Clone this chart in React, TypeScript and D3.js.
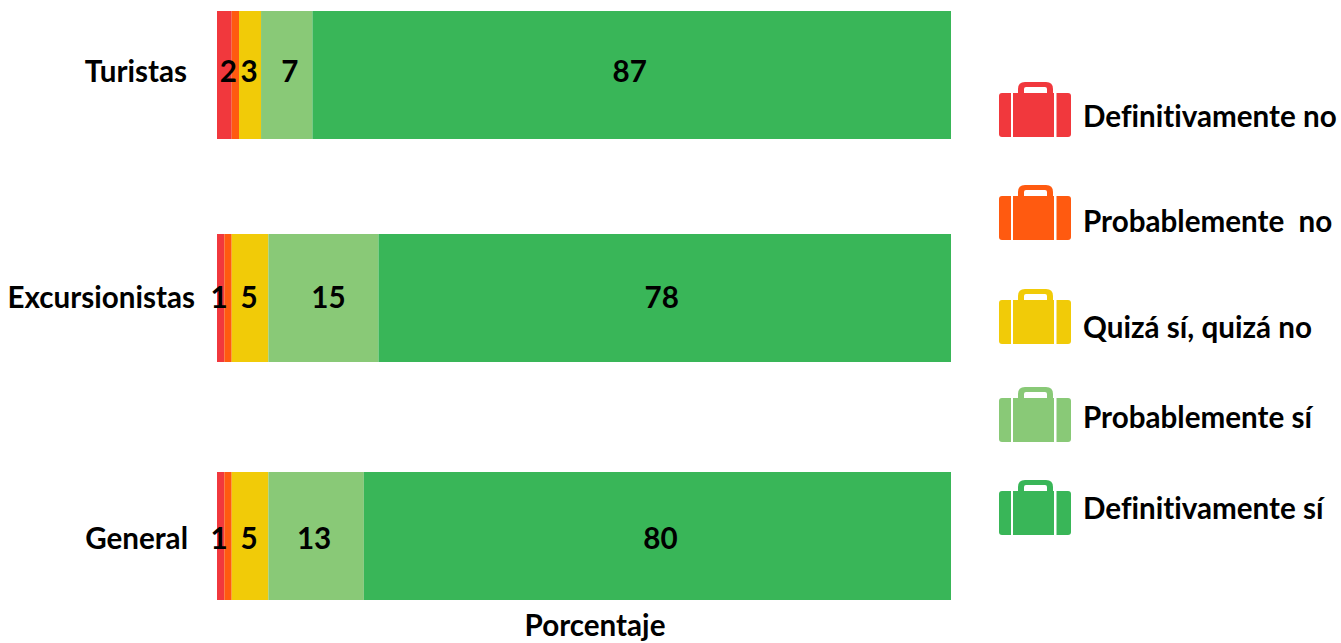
import React from "react";
import * as d3 from "d3";

const WIDTH = 1341;
const HEIGHT = 643;

// Share of answers per visitor group, in percent
const groups = ["Turistas", "Excursionistas", "General"];
const definitelyNo = [2, 1, 1];
const probablyNo = [1, 1, 1];
const maybe = [3, 5, 5];
const probablyYes = [7, 15, 13];
const definitelyYes = [87, 78, 80];

const answers = ["Definitivamente no", "Probablemente  no", "Quizá sí, quizá no", "Probablemente sí", "Definitivamente sí"];
const answerColors = ["#F1383D", "#FF5A10", "#F1CB08", "#89C977", "#39B658"];
const answerKeys = ["dn", "pn", "m", "py", "ds"];
const axisTitle = "Porcentaje";

// Hand-nudged horizontal label shifts per group, in the order of the answers
const labelShifts = [
  [4, 0, -1, 3, -2],
  [-1.5, 0, -1, 5, -3],
  [-1.5, 0, -1, -2, 3],
];

const rows = groups.map((group, i) => ({
  group,
  dn: definitelyNo[i],
  pn: probablyNo[i],
  m: maybe[i],
  py: probablyYes[i],
  ds: definitelyYes[i],
}));

const stacked = d3.stack<any>().keys(answerKeys)(rows);

const x = d3.scaleLinear().domain([0, 100]).range([217, 951]);
const barTop = d3.scaleOrdinal<string, number>().domain(groups).range([11, 234, 472]);
const groupLabelEnd = d3.scaleOrdinal<string, number>().domain(groups).range([187, 195, 188]);
const groupLabelY = d3.scaleOrdinal<string, number>().domain(groups).range([71.5, 297.5, 538.5]);
const legendTop = d3.scaleOrdinal<string, number>().domain(answers).range([82, 185, 289, 387, 480]);
const legendTextY = d3.scaleOrdinal<string, number>().domain(answers).range([116.5, 221.5, 327.5, 417.5, 508.5]);

const BAR_HEIGHT = 128;
const FONT = "Lato, sans-serif";
const FONT_SIZE = 29.6;

// Suitcase glyph in a 72 by 55 box: handle, two side panels and a centre panel
function Suitcase({ left, top, color }: { left: number; top: number; color: string }) {
  return (
    <g transform={`translate(${left},${top})`} fill={color}>
      <path
        fillRule="evenodd"
        d="M19 12 V7 Q19 0 26 0 H47 Q54 0 54 7 V12 Z M25 11 H48 V7 Q48 5 46 5 H27 Q25 5 25 7 Z"
      />
      <path d="M3 11 H12 V55 H3 Q0 55 0 52 V14 Q0 11 3 11 Z" />
      <rect x={14} y={11} width={41} height={44} />
      <path d="M57.5 11 H69 Q72 11 72 14 V52 Q72 55 69 55 H57.5 Z" />
    </g>
  );
}

export default function App() {
  return (
    <svg
      width={WIDTH}
      height={HEIGHT}
      viewBox={`0 0 ${WIDTH} ${HEIGHT}`}
      style={{ position: "absolute", left: 0, top: 0, background: "#fff", fontVariantLigatures: "none" }}
      fontFamily={FONT}
      fontWeight={700}
      fontSize={FONT_SIZE}
      fill="#000"
    >
      {stacked.map((layer, li) =>
        layer.map((seg, ri) => (
          <rect
            key={`${li}-${ri}`}
            x={x(seg[0])}
            y={barTop(groups[ri])}
            width={x(seg[1]) - x(seg[0])}
            height={BAR_HEIGHT}
            fill={answerColors[li]}
          />
        ))
      )}

      {stacked.map((layer, li) =>
        answerKeys[li] === "pn"
          ? null
          : layer.map((seg, ri) => (
              <text
                key={`v-${li}-${ri}`}
                x={(x(seg[0]) + x(seg[1])) / 2 + labelShifts[ri][li]}
                y={groupLabelY(groups[ri])}
                dy="0.35em"
                textAnchor="middle"
              >
                {seg[1] - seg[0]}
              </text>
            ))
      )}

      {groups.map((g) => (
        <text key={g} x={groupLabelEnd(g)} y={groupLabelY(g)} dy="0.35em" textAnchor="end">
          {g}
        </text>
      ))}

      <text x={595} y={626} dy="0.35em" textAnchor="middle">
        {axisTitle}
      </text>

      {answers.map((a, i) => (
        <g key={a}>
          <Suitcase left={999} top={legendTop(a)} color={answerColors[i]} />
          <text x={1083} y={legendTextY(a)} dy="0.35em" style={{ whiteSpace: "pre" }}>
            {a}
          </text>
        </g>
      ))}
    </svg>
  );
}
